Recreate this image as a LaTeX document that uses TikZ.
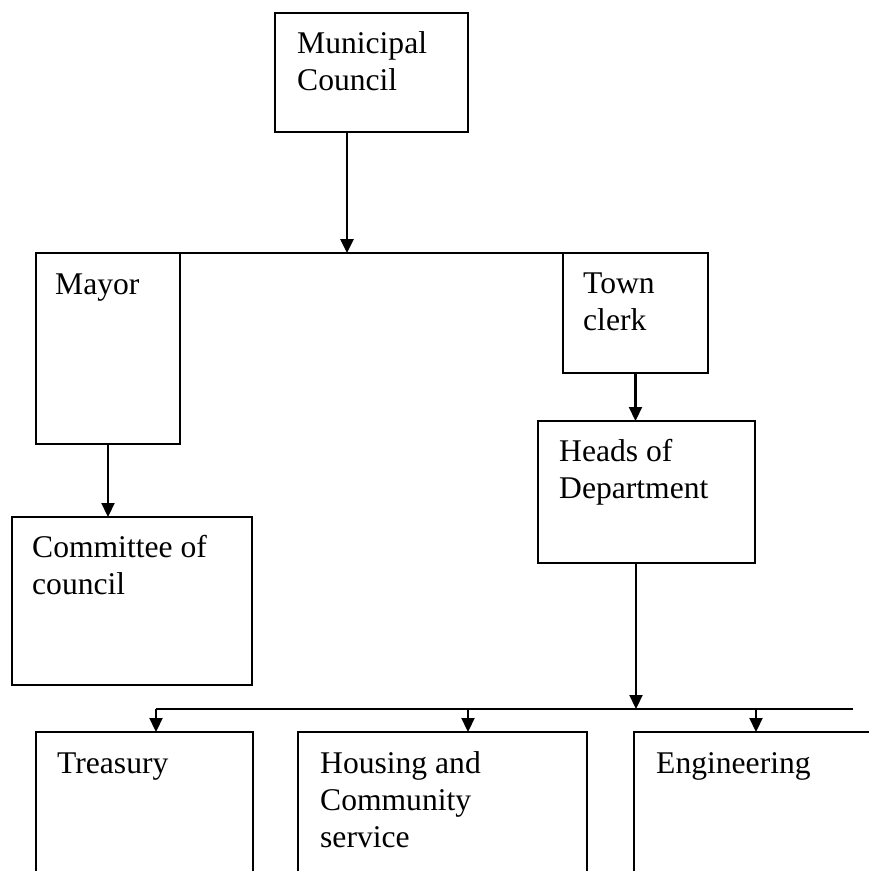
\documentclass[tikz,border=0pt]{standalone}
\usepackage{fontspec}
\setmainfont{Liberation Serif}
\usetikzlibrary{arrows.meta,positioning,calc}

\begin{document}
\begin{tikzpicture}[x=1pt, y=-1pt,
    box/.style={rectangle, draw, line width=2.2pt, anchor=north west, inner sep=0pt, outer sep=0pt},
    txt/.style={anchor=base west, align=left, inner sep=0pt, font=\fontsize{31.6}{37}\selectfont},
    link/.style={line width=2.2pt},
    arr/.style={line width=2.2pt, -{Triangle[width=13pt,length=14pt]}},
]
    \useasboundingbox (0,0) rectangle (869,871);

    \node[box, minimum width=193pt, minimum height=119pt] (council) at (275,13) {};
    \node[box, minimum width=144pt, minimum height=191pt] (mayor) at (36,253) {};
    \node[box, minimum width=145pt, minimum height=120pt] (clerk) at (563,253) {};
    \node[box, minimum width=240pt, minimum height=168pt] (committee) at (12,517) {};
    \node[box, minimum width=217pt, minimum height=142pt] (heads) at (538,421) {};
    \node[box, minimum width=217pt, minimum height=170pt] (treasury) at (36,732) {};
    \node[box, minimum width=289pt, minimum height=170pt] (housing) at (298,732) {};
    \node[box, minimum width=270pt, minimum height=170pt] (engineering) at (634,732) {};

    % base anchor sits on the last line
    \node[txt] (councilT) at ([shift={(22,77)}]council.north west) {Municipal\\Council};
    \node[txt] (mayorT) at ([shift={(19,41)}]mayor.north west) {Mayor};
    \node[txt] (clerkT) at ([shift={(20,77)}]clerk.north west) {Town\\clerk};
    \node[txt] (committeeT) at ([shift={(20,77)}]committee.north west) {Committee of\\council};
    \node[txt] (headsT) at ([shift={(21,77)}]heads.north west) {Heads of\\Department};
    \node[txt] (treasuryT) at ([shift={(21,41)}]treasury.north west) {Treasury};
    \node[txt] (housingT) at ([shift={(22,115)}]housing.north west) {Housing and\\Community\\service};
    \node[txt] (engineeringT) at ([shift={(22,41)}]engineering.north west) {Engineering};

    % council to the top bar
    \coordinate (tap) at (347,253);
    \draw[arr, line width=2.8pt] (council.south -| tap) -- (tap);
    \draw[link] (mayor.north east) -- (clerk.north west);

    \draw[arr] (mayor.south) -- (mayor.south |- committee.north);
    \draw[arr] (clerk.south) -- (clerk.south |- heads.north);

    % departments bar
    \coordinate (hub) at (636,709);
    \coordinate (busL) at (156,709);
    \coordinate (busM) at (468,709);
    \coordinate (busE) at (756,709);
    \coordinate (busR) at (853,709);
    \draw[arr] (heads.south -| hub) -- (hub);
    \draw[link] (busL) -- (busR);
    \draw[arr] (busL) -- (busL |- treasury.north);
    \draw[arr] (busM) -- (busM |- housing.north);
    \draw[arr] (busE) -- (busE |- engineering.north);
\end{tikzpicture}
\end{document}
